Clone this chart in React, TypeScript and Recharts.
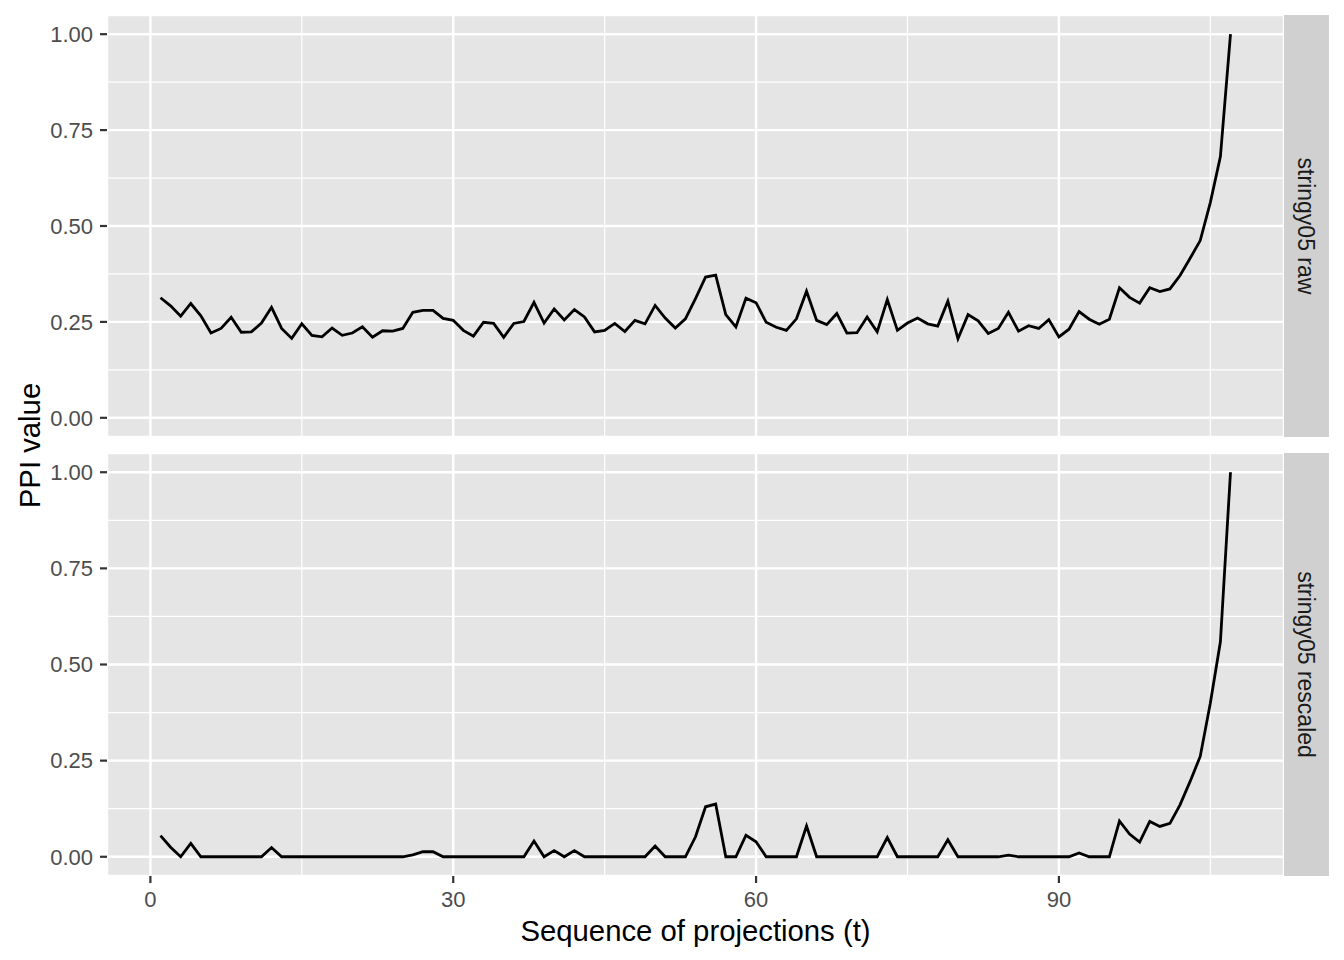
import React from 'react';
import { LineChart, Line, XAxis, YAxis, CartesianGrid } from 'recharts';

// PPI per projection
const rawValues = [
  0.313, 0.292, 0.265, 0.298, 0.266, 0.221, 0.233, 0.262, 0.223, 0.224,
  0.247, 0.288, 0.233, 0.207, 0.245, 0.215, 0.211, 0.234, 0.215, 0.221,
  0.237, 0.21, 0.227, 0.226, 0.233, 0.275, 0.28, 0.28, 0.259, 0.254,
  0.228, 0.213, 0.249, 0.246, 0.21, 0.246, 0.251, 0.301, 0.247, 0.284,
  0.255, 0.282, 0.263, 0.224, 0.228, 0.246, 0.225, 0.254, 0.245, 0.293,
  0.26, 0.234, 0.258, 0.311, 0.367, 0.372, 0.269, 0.237, 0.312, 0.3,
  0.249, 0.236, 0.228, 0.258, 0.33, 0.254, 0.243, 0.272, 0.221, 0.222,
  0.263, 0.224, 0.308, 0.228, 0.247, 0.26, 0.245, 0.239, 0.304, 0.206,
  0.269, 0.253, 0.22, 0.233, 0.275, 0.226, 0.24, 0.233, 0.256, 0.211,
  0.231, 0.277, 0.257, 0.244, 0.257, 0.339, 0.314, 0.299, 0.339, 0.329,
  0.336, 0.371, 0.416, 0.462, 0.561, 0.681, 1.0,
];

const rescaledValues = [
  0.055, 0.025, 0, 0.035, 0, 0, 0, 0, 0, 0,
  0, 0.024, 0, 0, 0, 0, 0, 0, 0, 0,
  0, 0, 0, 0, 0, 0.005, 0.013, 0.013, 0, 0,
  0, 0, 0, 0, 0, 0, 0, 0.041, 0, 0.016,
  0, 0.016, 0, 0, 0, 0, 0, 0, 0, 0.028,
  0, 0, 0, 0.052, 0.13, 0.137, 0, 0, 0.056, 0.039,
  0, 0, 0, 0, 0.08, 0, 0, 0, 0, 0,
  0, 0, 0.05, 0, 0, 0, 0, 0, 0.044, 0,
  0, 0, 0, 0, 0.004, 0, 0, 0, 0, 0,
  0, 0.01, 0, 0, 0, 0.093, 0.059, 0.038, 0.092, 0.079,
  0.087, 0.135, 0.196, 0.261, 0.399, 0.559, 1.0,
];

const facetLabels = ['stringy05 raw', 'stringy05 rescaled'];
const xTicks = [0, 30, 60, 90];
const xMinorTicks = [15, 45, 75, 105];
const yTicks = [0, 0.25, 0.5, 0.75, 1];
const yMinorTicks = [0.125, 0.375, 0.625, 0.875];

const FONT = '"Liberation Sans", Arial, Helvetica, sans-serif';
const X_DOMAIN = [-4.3, 112.3];
const Y_DOMAIN = [-0.05, 1.05];

const toRows = (values: number[]) => values.map((v, i) => ({ t: i + 1, ppi: v }));

function Panel({ values, height, top, showX }: { values: number[]; height: number; top: number; showX: boolean }) {
  return (
    <div style={{ position: 'absolute', left: 0, top }}>
      <LineChart
        width={1344}
        height={height}
        data={toRows(values)}
        margin={{ top: showX ? 13 : 15, right: 60, bottom: showX ? 0 : 8, left: 0 }}
      >
        <CartesianGrid stroke="#FFFFFF" strokeWidth={2.4} fill="#E5E5E5" />
        <CartesianGrid xAxisId="minor" yAxisId="minor" stroke="#FFFFFF" strokeWidth={1.2} />
        <XAxis
          dataKey="t"
          type="number"
          domain={X_DOMAIN}
          allowDataOverflow
          ticks={xTicks}
          interval={0}
          hide={!showX}
          height={44}
          axisLine={false}
          tickSize={7}
          tickMargin={8}
          tickLine={{ stroke: '#333333', strokeWidth: 2.2 }}
          tick={{ fill: '#4D4D4D', fontSize: 22, fontFamily: FONT }}
        />
        <XAxis xAxisId="minor" dataKey="t" type="number" domain={X_DOMAIN} allowDataOverflow ticks={xMinorTicks} interval={0} hide />
        <YAxis
          type="number"
          domain={Y_DOMAIN}
          allowDataOverflow
          ticks={yTicks}
          interval={0}
          width={107}
          axisLine={false}
          tickSize={7}
          tickMargin={7}
          tickLine={{ stroke: '#333333', strokeWidth: 2.2 }}
          tick={{ fill: '#4D4D4D', fontSize: 22, fontFamily: FONT }}
          tickFormatter={(v: number) => v.toFixed(2)}
        />
        <YAxis yAxisId="minor" type="number" domain={Y_DOMAIN} allowDataOverflow ticks={yMinorTicks} interval={0} hide />
        <Line
          type="linear"
          dataKey="ppi"
          stroke="#000000"
          strokeWidth={2.8}
          dot={false}
          activeDot={false}
          isAnimationActive={false}
        />
      </LineChart>
    </div>
  );
}

export default function App() {
  return (
    <div style={{ position: 'absolute', left: 0, top: 0, width: 1344, height: 960, background: '#FFFFFF', fontFamily: FONT }}>
      <Panel values={rawValues} height={445} top={0} showX={false} />
      <Panel values={rescaledValues} height={480} top={440} showX />
      <svg width={1344} height={960} style={{ position: 'absolute', left: 0, top: 0, pointerEvents: 'none' }}>
        <rect x={1284} y={15} width={45} height={422} fill="#D0D0D0" />
        <rect x={1284} y={453} width={45} height={423} fill="#D0D0D0" />
        <text
          x={1306}
          y={226}
          transform="rotate(90 1306 226)"
          textAnchor="middle"
          dominantBaseline="central"
          fontSize={23}
          fill="#1A1A1A"
          fontFamily={FONT}
        >
          {facetLabels[0]}
        </text>
        <text
          x={1306}
          y={664.5}
          transform="rotate(90 1306 664.5)"
          textAnchor="middle"
          dominantBaseline="central"
          fontSize={23}
          fill="#1A1A1A"
          fontFamily={FONT}
        >
          {facetLabels[1]}
        </text>
        <text
          x={29}
          y={445.5}
          transform="rotate(-90 29 445.5)"
          textAnchor="middle"
          dominantBaseline="central"
          fontSize={29.3}
          fill="#000000"
          fontFamily={FONT}
        >
          PPI value
        </text>
        <text x={695.5} y={941} textAnchor="middle" fontSize={29.3} fill="#000000" fontFamily={FONT}>
          Sequence of projections (t)
        </text>
      </svg>
    </div>
  );
}
